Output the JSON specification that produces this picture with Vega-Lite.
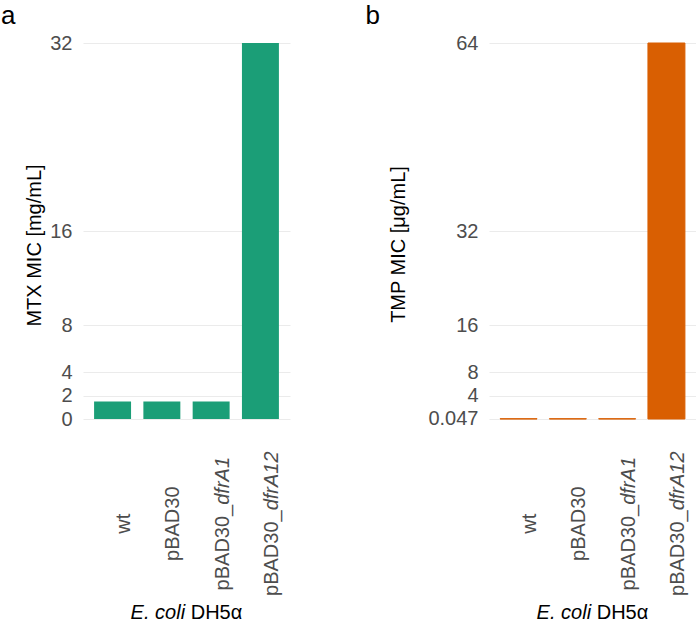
{
  "$schema": "https://vega.github.io/schema/vega-lite/v6.json",
  "autosize": {"type": "pad"},
  "padding": {"left": 0, "top": 2, "right": 0, "bottom": 0},
  "bounds": "flush",
  "spacing": 199,
  "config": {
    "view": {"stroke": null},
    "font": "Liberation Sans",
    "axis": {
      "domain": false,
      "ticks": false,
      "labelFont": "Liberation Sans",
      "labelFontSize": 20,
      "labelColor": "#4D4D4D",
      "labelPadding": 11,
      "labelOverlap": false,
      "titleFont": "Liberation Sans",
      "titleFontSize": 20,
      "titleFontWeight": "normal",
      "titleColor": "#000000",
      "gridColor": "#EBEBEB",
      "gridWidth": 1.1
    },
    "title": {"font": "Liberation Sans", "fontSize": 26, "fontWeight": "normal", "color": "#000000", "anchor": "start", "frame": "bounds"}
  },
  "datasets": {
    "mtx": [
      {"strain": "wt", "mic": 1.5, "plain": "wt", "ital": ""},
      {"strain": "pBAD30", "mic": 1.5, "plain": "pBAD30", "ital": ""},
      {"strain": "pBAD30_dfrA1", "mic": 1.5, "plain": "pBAD30_", "ital": "dfrA1"},
      {"strain": "pBAD30_dfrA12", "mic": 32, "plain": "pBAD30_", "ital": "dfrA12"}
    ],
    "tmp": [
      {"strain": "wt", "mic": 0.047, "plain": "wt", "ital": ""},
      {"strain": "pBAD30", "mic": 0.047, "plain": "pBAD30", "ital": ""},
      {"strain": "pBAD30_dfrA1", "mic": 0.047, "plain": "pBAD30_", "ital": "dfrA1"},
      {"strain": "pBAD30_dfrA12", "mic": 64, "plain": "pBAD30_", "ital": "dfrA12"}
    ]
  },
  "hconcat": [
    {
      "title": {"text": "a", "dx": -23.3, "offset": 4.5},
      "width": 207,
      "height": 376,
      "data": {"name": "mtx"},
      "encoding": {
        "x": {"field": "strain", "type": "nominal", "sort": null, "scale": {"paddingInner": 0.25, "paddingOuter": 0.225}, "axis": null}
      },
      "layer": [
        {
          "mark": {"type": "bar", "color": "#1B9E77"},
          "encoding": {
            "y": {"field": "mic", "type": "quantitative", "scale": {"domain": [0, 32], "nice": false},
              "axis": {"title": "MTX MIC [mg/mL]", "values": [0, 2, 4, 8, 16, 32], "titlePadding": 5.5, "titleY": 202}}
          }
        },
        {
          "transform": [{"filter": "datum.ital === ''"}],
          "mark": {"type": "text", "angle": 270, "align": "center", "baseline": "alphabetic", "dx": -104.7, "dy": 17.5, "fontSize": 20, "color": "#4D4D4D"},
          "encoding": {
            "y": {"datum": 0, "type": "quantitative", "scale": {"domain": [0, 32], "nice": false},
              "axis": {"title": "MTX MIC [mg/mL]", "values": [0, 2, 4, 8, 16, 32], "titlePadding": 5.5, "titleY": 202}},
            "text": {"field": "plain"}
          }
        },
        {
          "transform": [{"filter": "datum.strain === 'pBAD30_dfrA1'"}],
          "mark": {"type": "text", "angle": 270, "align": "right", "baseline": "alphabetic", "dx": -85.8, "dy": 17.5, "fontSize": 20, "color": "#4D4D4D"},
          "encoding": {
            "y": {"datum": 0, "type": "quantitative", "scale": {"domain": [0, 32], "nice": false},
              "axis": {"title": "MTX MIC [mg/mL]", "values": [0, 2, 4, 8, 16, 32], "titlePadding": 5.5, "titleY": 202}},
            "text": {"field": "plain"}
          }
        },
        {
          "transform": [{"filter": "datum.strain === 'pBAD30_dfrA1'"}],
          "mark": {"type": "text", "angle": 270, "align": "left", "baseline": "alphabetic", "dx": -85.8, "dy": 17.5, "fontSize": 20, "fontStyle": "italic", "color": "#4D4D4D"},
          "encoding": {
            "y": {"datum": 0, "type": "quantitative", "scale": {"domain": [0, 32], "nice": false},
              "axis": {"title": "MTX MIC [mg/mL]", "values": [0, 2, 4, 8, 16, 32], "titlePadding": 5.5, "titleY": 202}},
            "text": {"field": "ital"}
          }
        },
        {
          "transform": [{"filter": "datum.strain === 'pBAD30_dfrA12'"}],
          "mark": {"type": "text", "angle": 270, "align": "right", "baseline": "alphabetic", "dx": -91.35, "dy": 17.5, "fontSize": 20, "color": "#4D4D4D"},
          "encoding": {
            "y": {"datum": 0, "type": "quantitative", "scale": {"domain": [0, 32], "nice": false},
              "axis": {"title": "MTX MIC [mg/mL]", "values": [0, 2, 4, 8, 16, 32], "titlePadding": 5.5, "titleY": 202}},
            "text": {"field": "plain"}
          }
        },
        {
          "transform": [{"filter": "datum.strain === 'pBAD30_dfrA12'"}],
          "mark": {"type": "text", "angle": 270, "align": "left", "baseline": "alphabetic", "dx": -91.35, "dy": 17.5, "fontSize": 20, "fontStyle": "italic", "color": "#4D4D4D"},
          "encoding": {
            "y": {"datum": 0, "type": "quantitative", "scale": {"domain": [0, 32], "nice": false},
              "axis": {"title": "MTX MIC [mg/mL]", "values": [0, 2, 4, 8, 16, 32], "titlePadding": 5.5, "titleY": 202}},
            "text": {"field": "ital"}
          }
        },
        {
          "transform": [{"filter": "datum.strain === 'pBAD30_dfrA1'"}],
          "mark": {"type": "text", "align": "left", "baseline": "alphabetic", "dx": -62.05, "dy": 199.8, "fontSize": 20, "fontStyle": "italic", "color": "#000000"},
          "encoding": {
            "x": {"field": "strain", "type": "nominal", "sort": null, "bandPosition": 0, "scale": {"paddingInner": 0.25, "paddingOuter": 0.225}, "axis": null},
            "y": {"datum": 0, "type": "quantitative", "scale": {"domain": [0, 32], "nice": false},
              "axis": {"title": "MTX MIC [mg/mL]", "values": [0, 2, 4, 8, 16, 32], "titlePadding": 5.5, "titleY": 202}},
            "text": {"value": "E. coli"}
          }
        },
        {
          "transform": [{"filter": "datum.strain === 'pBAD30_dfrA1'"}],
          "mark": {"type": "text", "align": "right", "baseline": "alphabetic", "dx": 49.65, "dy": 199.8, "fontSize": 20, "color": "#000000"},
          "encoding": {
            "x": {"field": "strain", "type": "nominal", "sort": null, "bandPosition": 0, "scale": {"paddingInner": 0.25, "paddingOuter": 0.225}, "axis": null},
            "y": {"datum": 0, "type": "quantitative", "scale": {"domain": [0, 32], "nice": false},
              "axis": {"title": "MTX MIC [mg/mL]", "values": [0, 2, 4, 8, 16, 32], "titlePadding": 5.5, "titleY": 202}},
            "text": {"value": "DH5α"}
          }
        }
      ]
    },
    {
      "title": {"text": "b", "dx": -23.5, "offset": 4.5},
      "width": 207,
      "height": 376,
      "data": {"name": "tmp"},
      "encoding": {
        "x": {"field": "strain", "type": "nominal", "sort": null, "scale": {"paddingInner": 0.25, "paddingOuter": 0.225}, "axis": null}
      },
      "layer": [
        {
          "mark": {"type": "bar", "color": "#D95F02", "stroke": "#D95F02", "strokeWidth": 1},
          "encoding": {
            "y": {"field": "mic", "type": "quantitative", "scale": {"domain": [0, 64], "nice": false},
              "axis": {"title": "TMP MIC [μg/mL]", "values": [0.047, 4, 8, 16, 32, 64], "labelExpr": "'' + datum.value", "titlePadding": 19, "titleY": 201}}
          }
        },
        {
          "transform": [{"filter": "datum.ital === ''"}],
          "mark": {"type": "text", "angle": 270, "align": "center", "baseline": "alphabetic", "dx": -104.7, "dy": 17.5, "fontSize": 20, "color": "#4D4D4D"},
          "encoding": {
            "y": {"datum": 0, "type": "quantitative", "scale": {"domain": [0, 64], "nice": false},
              "axis": {"title": "TMP MIC [μg/mL]", "values": [0.047, 4, 8, 16, 32, 64], "labelExpr": "'' + datum.value", "titlePadding": 19, "titleY": 201}},
            "text": {"field": "plain"}
          }
        },
        {
          "transform": [{"filter": "datum.strain === 'pBAD30_dfrA1'"}],
          "mark": {"type": "text", "angle": 270, "align": "right", "baseline": "alphabetic", "dx": -85.8, "dy": 17.5, "fontSize": 20, "color": "#4D4D4D"},
          "encoding": {
            "y": {"datum": 0, "type": "quantitative", "scale": {"domain": [0, 64], "nice": false},
              "axis": {"title": "TMP MIC [μg/mL]", "values": [0.047, 4, 8, 16, 32, 64], "labelExpr": "'' + datum.value", "titlePadding": 19, "titleY": 201}},
            "text": {"field": "plain"}
          }
        },
        {
          "transform": [{"filter": "datum.strain === 'pBAD30_dfrA1'"}],
          "mark": {"type": "text", "angle": 270, "align": "left", "baseline": "alphabetic", "dx": -85.8, "dy": 17.5, "fontSize": 20, "fontStyle": "italic", "color": "#4D4D4D"},
          "encoding": {
            "y": {"datum": 0, "type": "quantitative", "scale": {"domain": [0, 64], "nice": false},
              "axis": {"title": "TMP MIC [μg/mL]", "values": [0.047, 4, 8, 16, 32, 64], "labelExpr": "'' + datum.value", "titlePadding": 19, "titleY": 201}},
            "text": {"field": "ital"}
          }
        },
        {
          "transform": [{"filter": "datum.strain === 'pBAD30_dfrA12'"}],
          "mark": {"type": "text", "angle": 270, "align": "right", "baseline": "alphabetic", "dx": -91.35, "dy": 17.5, "fontSize": 20, "color": "#4D4D4D"},
          "encoding": {
            "y": {"datum": 0, "type": "quantitative", "scale": {"domain": [0, 64], "nice": false},
              "axis": {"title": "TMP MIC [μg/mL]", "values": [0.047, 4, 8, 16, 32, 64], "labelExpr": "'' + datum.value", "titlePadding": 19, "titleY": 201}},
            "text": {"field": "plain"}
          }
        },
        {
          "transform": [{"filter": "datum.strain === 'pBAD30_dfrA12'"}],
          "mark": {"type": "text", "angle": 270, "align": "left", "baseline": "alphabetic", "dx": -91.35, "dy": 17.5, "fontSize": 20, "fontStyle": "italic", "color": "#4D4D4D"},
          "encoding": {
            "y": {"datum": 0, "type": "quantitative", "scale": {"domain": [0, 64], "nice": false},
              "axis": {"title": "TMP MIC [μg/mL]", "values": [0.047, 4, 8, 16, 32, 64], "labelExpr": "'' + datum.value", "titlePadding": 19, "titleY": 201}},
            "text": {"field": "ital"}
          }
        },
        {
          "transform": [{"filter": "datum.strain === 'pBAD30_dfrA1'"}],
          "mark": {"type": "text", "align": "left", "baseline": "alphabetic", "dx": -62.05, "dy": 199.8, "fontSize": 20, "fontStyle": "italic", "color": "#000000"},
          "encoding": {
            "x": {"field": "strain", "type": "nominal", "sort": null, "bandPosition": 0, "scale": {"paddingInner": 0.25, "paddingOuter": 0.225}, "axis": null},
            "y": {"datum": 0, "type": "quantitative", "scale": {"domain": [0, 64], "nice": false},
              "axis": {"title": "TMP MIC [μg/mL]", "values": [0.047, 4, 8, 16, 32, 64], "labelExpr": "'' + datum.value", "titlePadding": 19, "titleY": 201}},
            "text": {"value": "E. coli"}
          }
        },
        {
          "transform": [{"filter": "datum.strain === 'pBAD30_dfrA1'"}],
          "mark": {"type": "text", "align": "right", "baseline": "alphabetic", "dx": 49.65, "dy": 199.8, "fontSize": 20, "color": "#000000"},
          "encoding": {
            "x": {"field": "strain", "type": "nominal", "sort": null, "bandPosition": 0, "scale": {"paddingInner": 0.25, "paddingOuter": 0.225}, "axis": null},
            "y": {"datum": 0, "type": "quantitative", "scale": {"domain": [0, 64], "nice": false},
              "axis": {"title": "TMP MIC [μg/mL]", "values": [0.047, 4, 8, 16, 32, 64], "labelExpr": "'' + datum.value", "titlePadding": 19, "titleY": 201}},
            "text": {"value": "DH5α"}
          }
        }
      ]
    }
  ]
}
